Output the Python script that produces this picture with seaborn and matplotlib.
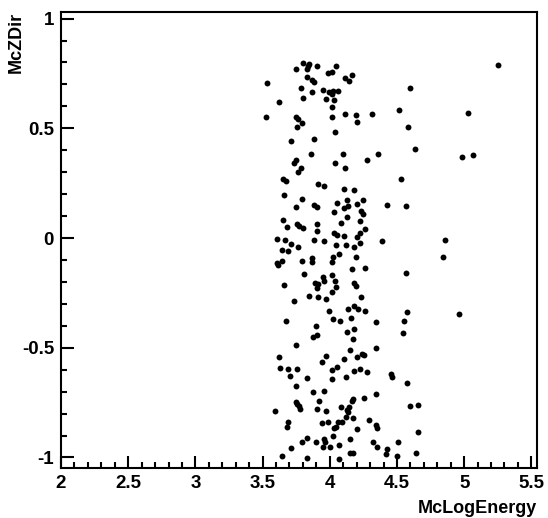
import matplotlib
matplotlib.use('Agg')
import matplotlib.pyplot as plt
import seaborn as sns
from matplotlib.ticker import MultipleLocator, FuncFormatter

# values
mc_log_energy = [
    3.798, 3.835, 3.848, 3.902, 3.746, 3.828, 3.984, 3.828, 3.870, 3.880, 3.533, 3.783, 3.870, 3.949, 3.994,
    3.969, 3.803, 3.622, 3.525, 3.749, 3.766, 3.791, 3.758, 3.882, 3.709, 3.860,
    4.046, 4.016, 4.113, 4.143, 4.168, 4.021, 4.061, 4.016, 4.031, 4.019, 4.016, 4.116, 4.195, 4.200, 4.314,
    4.517, 4.041, 4.096, 4.356,
    3.746, 3.736, 3.783, 3.766, 3.654, 3.672, 3.915, 3.957, 3.662, 3.796, 3.746, 3.885, 3.902, 3.654, 3.679,
    3.758, 3.773, 3.798, 3.902, 3.907, 3.610, 3.667, 3.709, 3.761, 3.642, 3.687, 3.885, 3.957, 3.870,
    4.274, 4.036, 4.116, 4.527, 4.108, 4.178, 4.054, 4.128, 4.245, 4.133, 4.106, 4.031, 4.205, 4.230, 4.245,
    4.426, 4.128, 4.081, 4.227, 4.031, 4.056, 4.103, 4.264, 4.227, 4.205, 4.386, 4.049, 4.121, 4.180, 4.225,
    4.071, 4.021, 4.195,
    3.605, 3.612, 3.647, 3.796, 3.870, 3.808, 3.662, 3.890, 3.915, 3.952, 3.959, 3.907, 3.845, 3.910, 3.969,
    3.734, 3.994, 3.672, 3.895, 3.877, 3.907, 3.746, 3.622, 3.969, 3.940,
    4.014, 4.168, 4.262, 4.014, 4.039, 4.044, 4.014, 4.180, 4.195, 4.232, 4.133, 4.180, 4.212, 4.262, 4.026,
    4.076, 4.158, 4.344, 4.552, 4.542, 4.130, 4.180, 4.170, 4.344, 4.150, 4.205, 4.237, 4.257, 4.106,
    3.629, 3.691, 3.753, 3.704, 3.828, 3.746, 3.878, 3.957, 3.920, 3.746, 3.758, 3.773, 3.778, 3.592, 3.907,
    3.969, 3.691, 3.684, 3.940, 3.989, 3.828, 3.791, 3.895, 3.957, 3.964, 3.952, 3.709, 3.647, 3.828,
    4.014, 4.051, 4.014, 4.121, 4.180, 4.225, 4.274, 4.453, 4.460, 4.175, 4.163, 4.257, 4.341, 4.081, 4.145,
    4.130, 4.138, 4.118, 4.170, 4.064, 4.088, 4.046, 4.031, 4.292, 4.341, 4.354, 4.205, 4.021, 4.150, 4.071,
    4.002, 4.319, 4.349, 4.423, 4.418, 4.510, 4.150, 4.170, 4.071, 4.498,
    5.254, 4.597, 5.031, 4.584, 4.634, 4.986, 5.068, 4.567, 4.857,
    4.845, 4.569, 4.574, 4.961, 4.572, 4.597, 4.654, 4.654, 4.641,
]
mc_zdir = [
    0.796, 0.785, 0.793, 0.785, 0.770, 0.770, 0.753, 0.735, 0.720, 0.709, 0.705, 0.682, 0.664, 0.674, 0.667,
    0.633, 0.636, 0.618, 0.553, 0.550, 0.542, 0.525, 0.507, 0.452, 0.442, 0.383,
    0.785, 0.755, 0.727, 0.715, 0.743, 0.671, 0.671, 0.656, 0.629, 0.598, 0.553, 0.563, 0.559, 0.528, 0.566,
    0.583, 0.483, 0.383, 0.383,
    0.355, 0.340, 0.320, 0.299, 0.269, 0.261, 0.244, 0.238, 0.196, 0.178, 0.143, 0.150, 0.140, 0.082, 0.052,
    0.064, 0.055, 0.044, 0.062, 0.032, -0.005, -0.009, -0.029, -0.040, -0.055, -0.059, -0.009, -0.014, -0.093,
    0.355, 0.340, 0.320, 0.267, 0.222, 0.219, 0.158, 0.173, 0.173, 0.146, 0.135, 0.120, 0.155, 0.123, 0.109,
    0.150, 0.097, 0.070, 0.077, 0.021, 0.014, 0.011, 0.041, 0.021, 0.003, -0.014, -0.032, -0.032, -0.040, -0.024,
    -0.072, -0.085, -0.085,
    -0.112, -0.123, -0.105, -0.105, -0.108, -0.164, -0.214, -0.204, -0.210, -0.176, -0.196, -0.226, -0.264, -0.270, -0.279,
    -0.286, -0.331, -0.377, -0.401, -0.450, -0.442, -0.487, -0.544, -0.538, -0.565,
    -0.108, -0.143, -0.138, -0.169, -0.194, -0.225, -0.248, -0.204, -0.219, -0.270, -0.323, -0.308, -0.323, -0.331, -0.369,
    -0.377, -0.366, -0.384, -0.377, -0.431, -0.427, -0.415, -0.460, -0.500, -0.510, -0.541, -0.529, -0.533, -0.553,
    -0.591, -0.597, -0.597, -0.627, -0.636, -0.674, -0.700, -0.696, -0.741, -0.746, -0.756, -0.764, -0.781, -0.787, -0.779,
    -0.787, -0.837, -0.860, -0.844, -0.840, -0.910, -0.931, -0.931, -0.916, -0.931, -0.951, -0.955, -0.993, -1.001,
    -0.601, -0.586, -0.644, -0.635, -0.606, -0.597, -0.609, -0.621, -0.632, -0.734, -0.743, -0.727, -0.712, -0.771, -0.768,
    -0.784, -0.794, -0.817, -0.822, -0.837, -0.837, -0.860, -0.867, -0.829, -0.852, -0.867, -0.870, -0.901, -0.916, -0.943,
    -0.954, -0.928, -0.954, -0.961, -0.986, -0.928, -0.981, -0.981, -1.008, -0.993,
    0.788, 0.682, 0.568, 0.507, 0.405, 0.367, 0.378, 0.146, -0.009,
    -0.085, -0.158, -0.336, -0.346, -0.659, -0.765, -0.762, -0.882, -0.978,
]

sns.set_style('white')
plt.rcParams['font.family'] = ['Liberation Sans', 'DejaVu Sans']
plt.rcParams['font.weight'] = 'bold'
plt.rcParams['axes.unicode_minus'] = False
plt.rcParams['text.color'] = 'black'
plt.rcParams['axes.labelcolor'] = 'black'

fig = plt.figure(figsize=(5.48, 5.18), dpi=100)
ax = fig.add_axes([61 / 548, 50 / 518, 476 / 548, 456 / 518])

sns.scatterplot(x=mc_log_energy, y=mc_zdir, color='black', s=18, linewidth=0, ax=ax)

ax.set_xlim(2, 5.542)
ax.set_ylim(-1.048, 1.030)

ax.xaxis.set_major_locator(MultipleLocator(0.5))
ax.xaxis.set_minor_locator(MultipleLocator(0.1))
ax.yaxis.set_major_locator(MultipleLocator(0.5))
ax.yaxis.set_minor_locator(MultipleLocator(0.1))
fmt = FuncFormatter(lambda v, p: '%g' % round(v, 2))
ax.xaxis.set_major_formatter(fmt)
ax.yaxis.set_major_formatter(fmt)

ax.tick_params(which='both', direction='in', bottom=True, left=True, top=False, right=False,
               color='black', width=1.5, labelcolor='black')
ax.tick_params(which='major', length=9, labelsize=13.5, pad=5)
ax.tick_params(which='minor', length=4.5)
for lab in ax.get_xticklabels() + ax.get_yticklabels():
    lab.set_fontweight('bold')

for sp in ax.spines.values():
    sp.set_color('black')
    sp.set_linewidth(1.5)

ax.set_xlabel('McLogEnergy', loc='right', fontsize=13, fontweight='bold')
ax.set_ylabel('McZDir', loc='top', fontsize=13, fontweight='bold')
ax.xaxis.set_label_coords(1.0, -0.07)
ax.yaxis.set_label_coords(-0.076, 1.0)

fig.savefig('out.png', dpi=100)
